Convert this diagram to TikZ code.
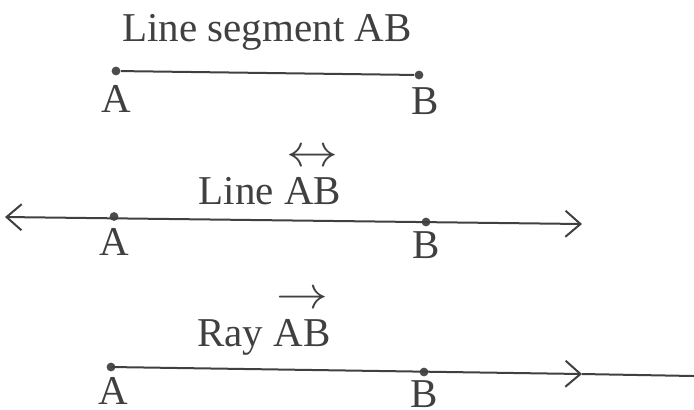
\documentclass[tikz,border=0pt]{standalone}
\usepackage{amsmath}
\usepackage{fontspec}
\setmainfont{Liberation Serif}
\usepackage{tikz}
\usetikzlibrary{arrows.meta}

% name with an arrow standing above it
\newcommand{\arrname}[2]{\shortstack{\scalebox{1.25}[1.1]{$#1$}\\[2pt]#2}}

\begin{document}
\begin{tikzpicture}[x=0.5pt, y=-0.5pt, font=\fontsize{20.5}{24}\selectfont,
  >={Straight Barb[length=7.5pt, width=13pt, line width=1pt]},
  ln/.style={line width=1pt, draw=black!75},
  pt/.style={circle, fill=black!70, inner sep=0pt, minimum size=4.4pt},
  lbl/.style={text=black!75}]

\useasboundingbox (0,0) rectangle (694,409);

% line segment AB, with its title above
\node[lbl, anchor=base] (tseg) at (267,41) {Line segment AB};
\node[pt] (a1) at (116,71) {};
\node[pt] (b1) at (419,75) {};
\draw[ln] (a1) -- (b1);
\node[lbl] (la1) at (116,99) {A};
\node[lbl] (lb1) at (425,101) {B};

% line AB: arrows at both ends
\node[lbl, anchor=base] (tline) at (270,204) {Line \arrname{\leftrightarrow}{AB}};
\coordinate (l0) at (5,217);
\coordinate (l1) at (582,224);
\node[pt] (a2) at (114,216.5) {};
\node[pt] (b2) at (426,222) {};
\draw[ln, <->] (l0) -- (l1);
\node[lbl] (la2) at (114,242) {A};
\node[lbl] (lb2) at (426,245) {B};

% ray AB: starts at A, arrow past B, runs off the edge
\node[lbl, anchor=base] (tray) at (264,346) {Ray \arrname{\rightarrow}{AB}};
\node[pt] (a3) at (111,367) {};
\node[pt] (b3) at (424,372) {};
\coordinate (r1) at (582,374);
\coordinate (r2) at (694,376);
\draw[ln, ->] (a3.center) -- (r1);
\draw[ln] (r1) -- (r2);
\node[lbl] (la3) at (113,391) {A};
\node[lbl] (lb3) at (424,394) {B};

\end{tikzpicture}
\end{document}
